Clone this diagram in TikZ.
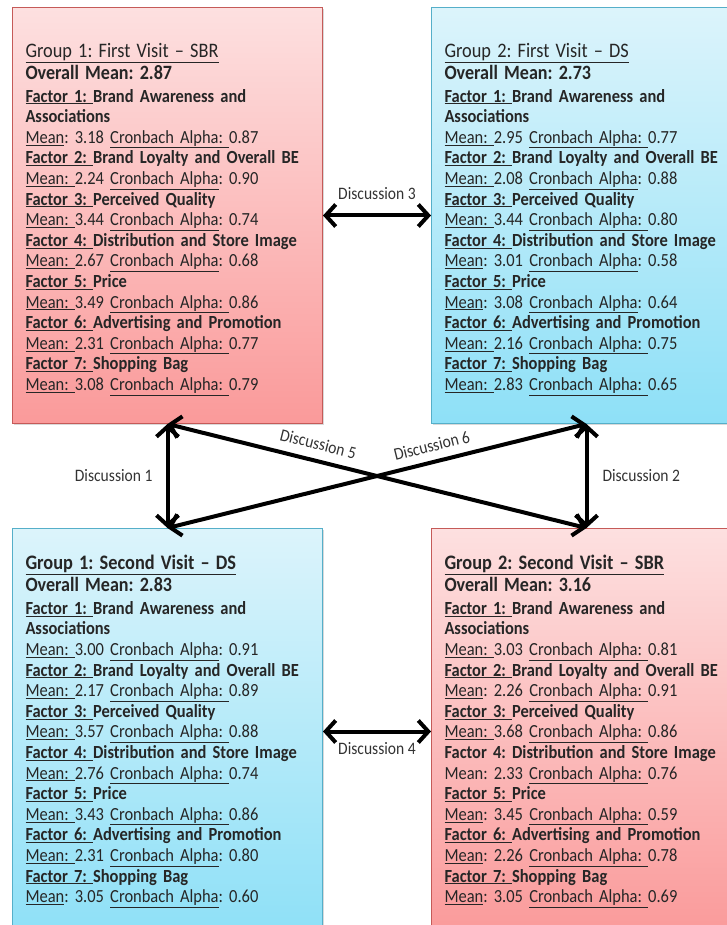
\documentclass[tikz,border=0pt]{standalone}
\usepackage{fontspec}
\setmainfont{Carlito}[FakeStretch=0.89]
\usetikzlibrary{arrows.meta,positioning,shadows}
\definecolor{sbrtop}{HTML}{FDE0E0}
\definecolor{sbrbot}{HTML}{FA9A9A}
\definecolor{sbrline}{HTML}{C55A58}
\definecolor{dstop}{HTML}{DCF4FB}
\definecolor{dsbot}{HTML}{8EE0F7}
\definecolor{dsline}{HTML}{55AFC9}
\newcommand{\unl}[1]{\underline{#1}}
\newcommand{\titl}[2]{\rule{0pt}{#1}{\fontsize{20.6}{20.6}\selectfont\unl{#2}}}
\newcommand{\ovl}[1]{{\fontsize{20.3}{20.6}\selectfont\textbf{#1}}}
\newcommand{\boxfont}{\fontsize{18.5}{20.6}\selectfont\frenchspacing\lineskiplimit=-30pt\relax}
\tikzstyle{box} = [rectangle, line width=1pt, minimum width=310pt, text width=284pt, inner xsep=13pt, align=left,
    anchor=north west, font=\boxfont, text=black!85,
    drop shadow={shadow xshift=1.5pt, shadow yshift=-1.5pt, opacity=.3}]
\tikzstyle{redbox} = [box, draw=sbrline, top color=sbrtop, bottom color=sbrbot]
\tikzstyle{bluebox} = [box, draw=dsline, top color=dstop, bottom color=dsbot]
\tikzstyle{line} = [draw, line width=4pt, {Straight Barb[length=10pt,width=22pt]}-{Straight Barb[length=10pt,width=22pt]}]
\tikzstyle{disc} = [inner sep=0pt, font=\fontsize{17.5}{18}\selectfont, text=black!80]

\begin{document}
\begin{tikzpicture}[x=1pt,y=-1pt]
  \useasboundingbox (0,0) rectangle (727,925);
  \clip (0,0) rectangle (727,925);

  % group 1, first visit
  \node [redbox, minimum height=416pt] (g1first) at (12,7) {%
    \titl{22pt}{Group 1: First Visit – SBR}\\[1.4pt]
    \ovl{Overall Mean: 2.87}\\[1.8pt]
    \textbf{\unl{Factor 1: }Brand Awareness and}\\
    \textbf{Associations}\\
    \unl{Mean}: 3.18 \unl{Cronbach Alpha: }0.87\\
    \textbf{\unl{Factor 2: }Brand Loyalty and Overall BE}\\
    \unl{Mean: }2.24 \unl{Cronbach Alpha}: 0.90\\
    \textbf{\unl{Factor 3: }Perceived Quality}\\
    \unl{Mean: }3.44 \unl{Cronbach Alpha}: 0.74\\
    \textbf{\unl{Factor 4: }Distribution and Store Image}\\
    \unl{Mean: }2.67 \unl{Cronbach Alpha}: 0.68\\
    \textbf{\unl{Factor 5: }Price}\\
    \unl{Mean: }3.49 \unl{Cronbach Alpha: }0.86\\
    \textbf{\unl{Factor 6: }Advertising and Promotion}\\
    \unl{Mean: }2.31 \unl{Cronbach Alpha: }0.77\\
    \textbf{\unl{Factor 7: }Shopping Bag}\\
    \unl{Mean: }3.08 \unl{Cronbach Alpha: }0.79};

  % group 2, first visit
  \node [bluebox, minimum height=416pt, right=108pt of g1first] (g2first) {%
    \titl{22pt}{Group 2: First Visit – DS}\\[1.4pt]
    \ovl{Overall Mean: 2.73}\\[1.8pt]
    \textbf{\unl{Factor 1: }Brand Awareness and}\\
    \textbf{Associations}\\
    \unl{Mean: }2.95 \unl{Cronbach Alpha: }0.77\\
    \textbf{\unl{Factor 2: }Brand Loyalty and Overall BE}\\
    \unl{Mean: }2.08 \unl{Cronbach Alpha}: 0.88\\
    \textbf{\unl{Factor 3: }Perceived Quality}\\
    \unl{Mean: }3.44 \unl{Cronbach Alpha: }0.80\\
    \textbf{\unl{Factor 4: }Distribution and Store Image}\\
    \unl{Mean}: 3.01 \unl{Cronbach Alpha}: 0.58\\
    \textbf{\unl{Factor 5: }Price}\\
    \unl{Mean}: 3.08 \unl{Cronbach Alpha}: 0.64\\
    \textbf{\unl{Factor 6: }Advertising and Promotion}\\
    \unl{Mean: }2.16 \unl{Cronbach Alpha: }0.75\\
    \textbf{\unl{Factor 7: }Shopping Bag}\\
    \unl{Mean: }2.83 \unl{Cronbach Alpha: }0.65};

  % group 1, second visit
  \node [bluebox, minimum height=406pt, below=104pt of g1first] (g1second) {%
    \titl{14pt}{\textbf{Group 1: Second Visit – DS}}\\[1.4pt]
    \ovl{Overall Mean: 2.83}\\[1.8pt]
    \textbf{\unl{Factor 1: }Brand Awareness and}\\
    \textbf{Associations}\\
    \unl{Mean: }3.00 \unl{Cronbach Alpha}: 0.91\\
    \textbf{\unl{Factor 2: }Brand Loyalty and Overall BE}\\
    \unl{Mean: }2.17 \unl{Cronbach Alpha: }0.89\\
    \textbf{\unl{Factor 3: }Perceived Quality}\\
    \unl{Mean: }3.57 \unl{Cronbach Alpha: }0.88\\
    \textbf{\unl{Factor 4: }Distribution and Store Image}\\
    \unl{Mean: }2.76 \unl{Cronbach Alpha: }0.74\\
    \textbf{\unl{Factor 5: }Price}\\
    \unl{Mean: }3.43 \unl{Cronbach Alpha: }0.86\\
    \textbf{\unl{Factor 6: }Advertising and Promotion}\\
    \unl{Mean: }2.31 \unl{Cronbach Alpha}: 0.80\\
    \textbf{\unl{Factor 7: }Shopping Bag}\\
    \unl{Mean}: 3.05 \unl{Cronbach Alpha}: 0.60};

  % group 2, second visit
  \node [redbox, minimum height=406pt, right=108pt of g1second] (g2second) {%
    \titl{14pt}{\textbf{Group 2: Second Visit – SBR}}\\[1.4pt]
    \ovl{Overall Mean: 3.16}\\[1.8pt]
    \textbf{\unl{Factor 1: }Brand Awareness and}\\
    \textbf{Associations}\\
    \unl{Mean: }3.03 \unl{Cronbach Alpha: }0.81\\
    \textbf{\unl{Factor 2: }Brand Loyalty and Overall BE}\\
    \unl{Mean}: 2.26 \unl{Cronbach Alpha: }0.91\\
    \textbf{\unl{Factor 3: }Perceived Quality}\\
    \unl{Mean: }3.68 \unl{Cronbach Alpha: }0.86\\
    \textbf{Factor 4: Distribution and Store Image}\\
    Mean: 2.33 \unl{Cronbach Alpha: }0.76\\
    \textbf{\unl{Factor 5: }Price}\\
    \unl{Mean}: 3.45 \unl{Cronbach Alpha: }0.59\\
    \textbf{\unl{Factor 6: }Advertising and Promotion}\\
    \unl{Mean}: 2.26 \unl{Cronbach Alpha: }0.78\\
    \textbf{\unl{Factor 7: }Shopping Bag}\\
    \unl{Mean}: 3.05 \unl{Cronbach Alpha: }0.69};

  \path [line] (g1first.south) -- node [disc, left=13pt] {Discussion 1} (g1second.north);
  \path [line] (g2first.south) -- node [disc, right=14pt] {Discussion 2} (g2second.north);
  \path [line] (g1first.east) -- node [disc, above=14pt] {Discussion 3} (g2first.west);
  \path [line] (g1second.east) -- node [disc, below=9pt] {Discussion 4} (g2second.west);
  \path [line] (g1first.south) -- node [disc, pos=0.35, sloped, above=9pt] {Discussion 5} (g2second.north);
  \path [line] (g1second.north) -- node [disc, pos=0.64, sloped, above=8pt] {Discussion 6} (g2first.south);
\end{tikzpicture}
\end{document}
